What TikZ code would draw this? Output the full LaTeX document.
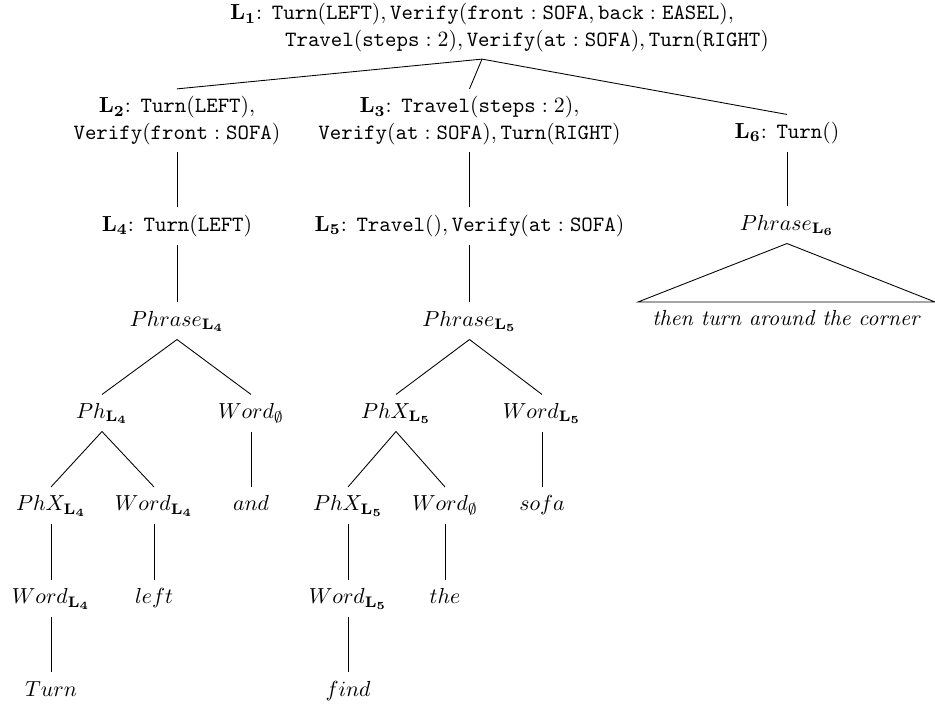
\documentclass[tikz,border=0pt]{standalone}
\begin{document}
\begin{tikzpicture}[x=0.4587pt,y=-0.4587pt,
  lbl/.style={inner xsep=0pt, inner ysep=3.5pt, outer sep=0pt},
  one/.style={lbl, text height=7.5pt, text depth=2.5pt},
  two/.style={lbl, align=center},
  every path/.style={line width=0.4pt}]
\useasboundingbox (0,0) rectangle (935,704);

% logical forms
\node[two] (L1) at (482,27.5) {$\mathbf{L_1}$: $\mathtt{Turn}(\mathtt{LEFT}), \mathtt{Verify}(\mathtt{front}:\mathtt{SOFA}, \mathtt{back}:\mathtt{EASEL}),$\\
  \hspace*{41.3pt}$\mathtt{Travel}(\mathtt{steps}:2), \mathtt{Verify}(\mathtt{at}:\mathtt{SOFA}), \mathtt{Turn}(\mathtt{RIGHT})$};
\node[two] (L2) at (177,120.5) {$\mathbf{L_2}$: $\mathtt{Turn}(\mathtt{LEFT}),$\\$\mathtt{Verify}(\mathtt{front}:\mathtt{SOFA})$};
\node[two] (L3) at (469.5,120.5) {$\mathbf{L_3}$: $\mathtt{Travel}(\mathtt{steps}:2),$\\$\mathtt{Verify}(\mathtt{at}:\mathtt{SOFA}), \mathtt{Turn}(\mathtt{RIGHT})$};
\node[one] (L6) at (787,133) {$\mathbf{L_6}$: $\mathtt{Turn}()$};
\node[one] (L4) at (177,226) {$\mathbf{L_4}$: $\mathtt{Turn}(\mathtt{LEFT})$};
\node[one] (L5) at (469.5,226) {$\mathbf{L_5}$: $\mathtt{Travel}(), \mathtt{Verify}(\mathtt{at}:\mathtt{SOFA})$};

% phrase structure
\node[one] (P6) at (787,225) {$Phrase_{\mathbf{L_6}}$};
\node[one, minimum width=136.2pt] (roof) at (786.5,320.5) {\textit{then turn around the corner}};
\node[one] (P4) at (177,321) {$Phrase_{\mathbf{L_4}}$};
\node[one] (P5) at (469.5,321) {$Phrase_{\mathbf{L_5}}$};

\node[one] (Ph4) at (102,413) {$Ph_{\mathbf{L_4}}$};
\node[one] (W0a) at (251,413) {$Word_{\emptyset}$};
\node[one] (X5) at (396,413) {$PhX_{\mathbf{L_5}}$};
\node[one] (W5) at (542,413) {$Word_{\mathbf{L_5}}$};

\node[one] (X4) at (51,505.5) {$PhX_{\mathbf{L_4}}$};
\node[one] (W4) at (154,505.5) {$Word_{\mathbf{L_4}}$};
\node[one] (and) at (251,505.5) {$and$};
\node[one] (X5b) at (348,505.5) {$PhX_{\mathbf{L_5}}$};
\node[one] (W0b) at (445,505.5) {$Word_{\emptyset}$};
\node[one] (sofa) at (542,505.5) {$sofa$};

\node[one] (W4b) at (51,598.5) {$Word_{\mathbf{L_4}}$};
\node[one] (left) at (154,598.5) {$left$};
\node[one] (W5b) at (348,598.5) {$Word_{\mathbf{L_5}}$};
\node[one] (the) at (445,598.5) {$the$};

\node[one] (Turn) at (51,691) {$Turn$};
\node[one] (find) at (348,691) {$find$};

% branches
\draw (L1.south) -- (L2.north);
\draw (L1.south) -- (L3.north);
\draw (L1.south) -- (L6.north);
\draw (L2.south) -- (L4.north);
\draw (L3.south) -- (L5.north);
\draw (L6.south) -- (P6.north);
\draw (P6.south) -- (roof.north east) -- (roof.north west) -- cycle;
\draw (L4.south) -- (P4.north);
\draw (L5.south) -- (P5.north);

\draw (P4.south) -- (Ph4.north);
\draw (P4.south) -- (W0a.north);
\draw (Ph4.south) -- (X4.north);
\draw (Ph4.south) -- (W4.north);
\draw (W0a.south) -- (and.north);
\draw (X4.south) -- (W4b.north);
\draw (W4.south) -- (left.north);
\draw (W4b.south) -- (Turn.north);

\draw (P5.south) -- (X5.north);
\draw (P5.south) -- (W5.north);
\draw (X5.south) -- (X5b.north);
\draw (X5.south) -- (W0b.north);
\draw (W5.south) -- (sofa.north);
\draw (X5b.south) -- (W5b.north);
\draw (W0b.south) -- (the.north);
\draw (W5b.south) -- (find.north);
\end{tikzpicture}
\end{document}
